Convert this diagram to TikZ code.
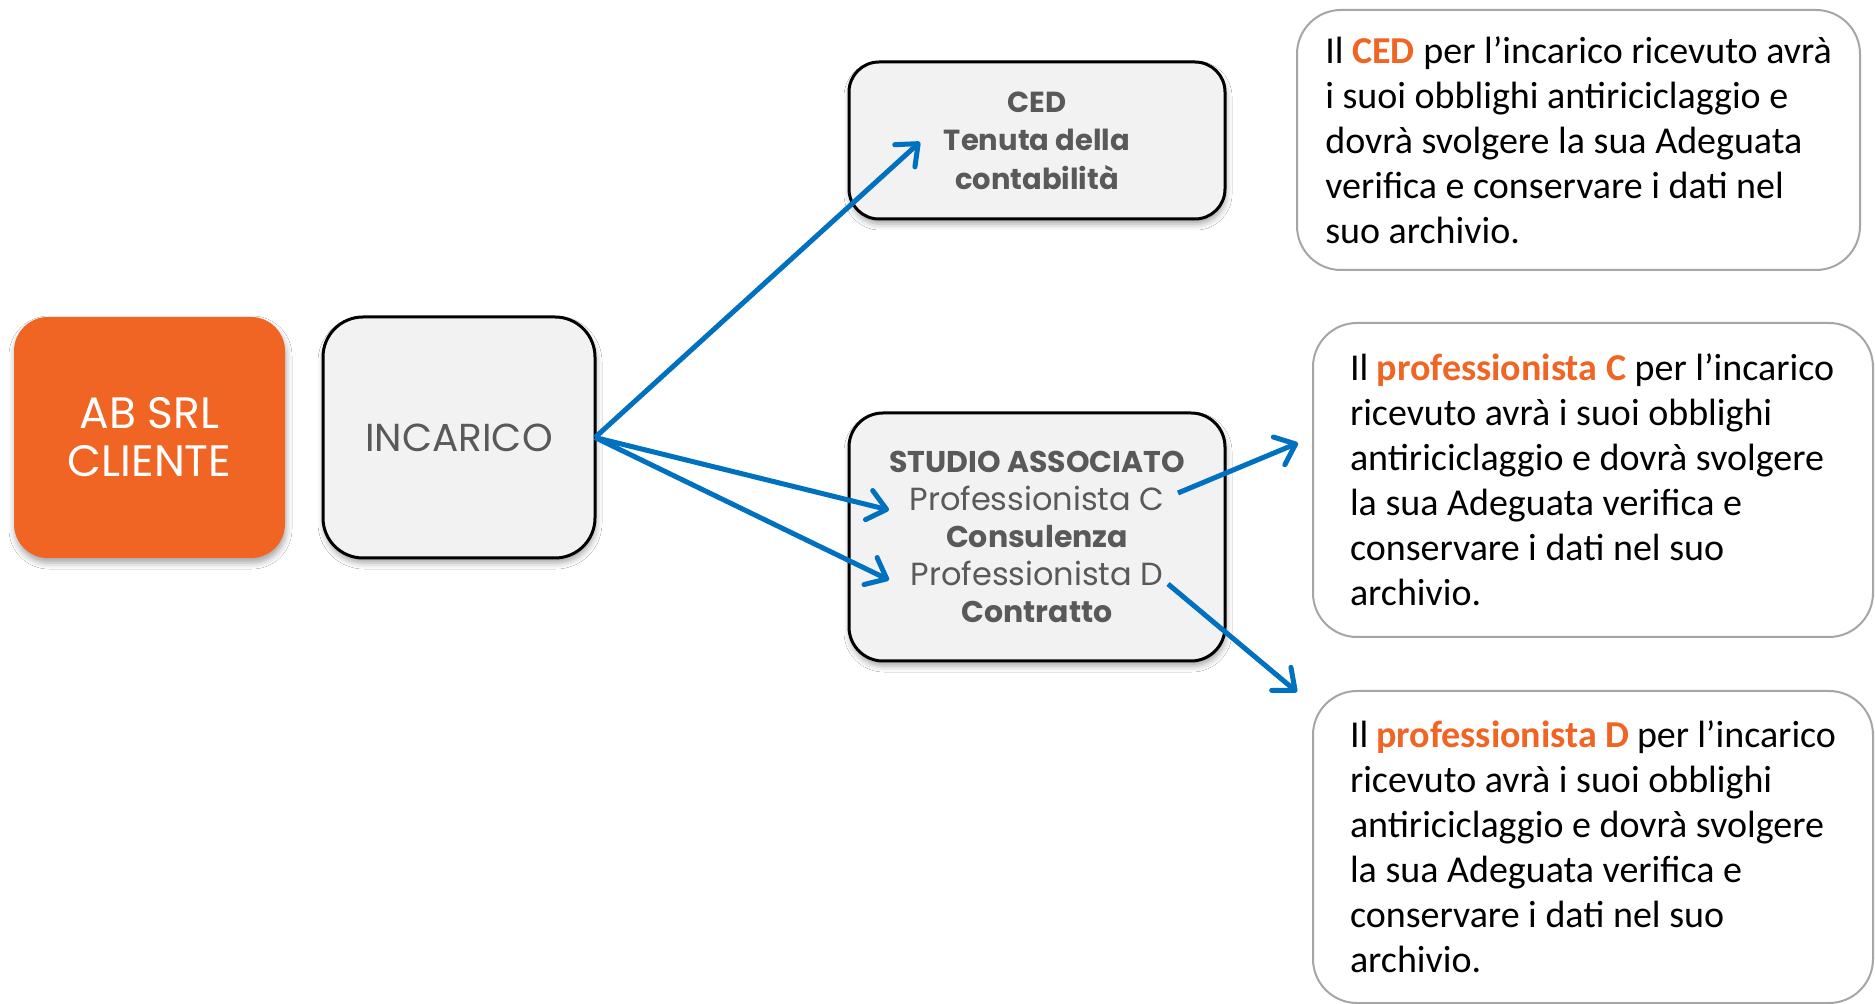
\documentclass[tikz,border=0pt]{standalone}
\usepackage{fontspec}
\setmainfont{Carlito}
\newfontfamily\gothic{Poppins}
\newfontfamily\carl{Carlito}
\usetikzlibrary{arrows.meta,shadows.blur}
\definecolor{orng}{RGB}{240,100,36}
\definecolor{txtgray}{RGB}{89,89,89}
\definecolor{boxfill}{RGB}{242,242,242}
\definecolor{bordergray}{RGB}{166,166,166}
\definecolor{arrowblue}{RGB}{0,112,192}
\newcommand{\reg}[1]{{\fontsize{16}{18.75}\selectfont #1}}
\begin{document}
\begin{tikzpicture}[x=0.5pt,y=-0.5pt,
  shad/.style={blur shadow={shadow xshift=0.5pt,shadow yshift=-2.5pt,shadow blur radius=3pt,shadow opacity=35}},
  client/.style={fill=orng, rounded corners=17pt, minimum width=135.5pt, minimum height=120.5pt, text=white, font=\gothic\fontsize{22}{24}\selectfont, align=center, inner sep=0pt, outer sep=0pt, shad},
  graybox/.style={draw=black, line width=1.5pt, fill=boxfill, text=txtgray, align=center, inner sep=0pt, outer sep=0pt, shad},
  note/.style={draw=bordergray, line width=1pt, fill=white, rounded corners=22pt, font=\carl\fontsize{19}{22.5}\selectfont, outer sep=0pt, inner ysep=0pt},
  link/.style={draw=arrowblue, line width=2.5pt, -{Straight Barb[round,length=9pt,width=15pt]}}
]
\fill[white] (0,0) rectangle (1875,1004);
\useasboundingbox (0,0) rectangle (1875,1004);

\node[client] (ab) at (149.5,437.5) {AB SRL\\CLIENTE};
\node[graybox, rounded corners=20pt, minimum width=136pt, minimum height=120.5pt, font=\gothic\fontsize{19.5}{24}\selectfont] (inc) at (459,437.5) {INCARICO};
\node[graybox, rounded corners=15pt, minimum width=188pt, minimum height=78.5pt, font=\gothic\bfseries\fontsize{14.5}{19.25}\selectfont] (ced) at (1037,140.5) {CED\\Tenuta della\\contabilità};
\node[graybox, rounded corners=17pt, minimum width=188pt, minimum height=124pt, font=\gothic\fontsize{15}{18.75}\selectfont] (studio) at (1037,537) {\textbf{STUDIO ASSOCIATO}\\\reg{Professionista C}\\\textbf{Consulenza}\\\reg{Professionista D}\\\textbf{Contratto}};

\node[note, align=left, minimum width=281.5pt, minimum height=130pt] (nced) at (1578.5,140) {Il \textcolor{orng}{\textbf{CED}} per l’incarico ricevuto avrà\\i suoi obblighi antiriciclaggio e\\dovrà svolgere la sua Adeguata\\verifica e conservare i dati nel\\suo archivio.};
\node[note, align=flush left, text width=243pt, inner xsep=18.5pt, minimum height=157pt] (nC) at (1593,480) {Il \textcolor{orng}{\textbf{professionista C}} per l’incarico\\ricevuto avrà i suoi obblighi\\antiriciclaggio e dovrà svolgere\\la sua Adeguata verifica e\\conservare i dati nel suo\\archivio.};
\node[note, align=flush left, text width=243pt, inner xsep=18.5pt, minimum height=156pt] (nD) at (1593,847) {Il \textcolor{orng}{\textbf{professionista D}} per l’incarico\\ricevuto avrà i suoi obblighi\\antiriciclaggio e dovrà svolgere\\la sua Adeguata verifica e\\conservare i dati nel suo\\archivio.};

\coordinate (tipced) at (920,142);
\coordinate (tipC) at (889,510);
\coordinate (tipD) at (889,580);
\coordinate (fromC) at (1178,493);
\coordinate (fromD) at (1168,584);
\coordinate (tipnC) at (1298,443);
\coordinate (tipnD) at (1297,692);

\draw[link] (inc.east) -- (tipced);
\draw[link] (inc.east) -- (tipC);
\draw[link] (inc.east) -- (tipD);
\draw[link] (fromC) -- (tipnC);
\draw[link] (fromD) -- (tipnD);
\end{tikzpicture}
\end{document}
